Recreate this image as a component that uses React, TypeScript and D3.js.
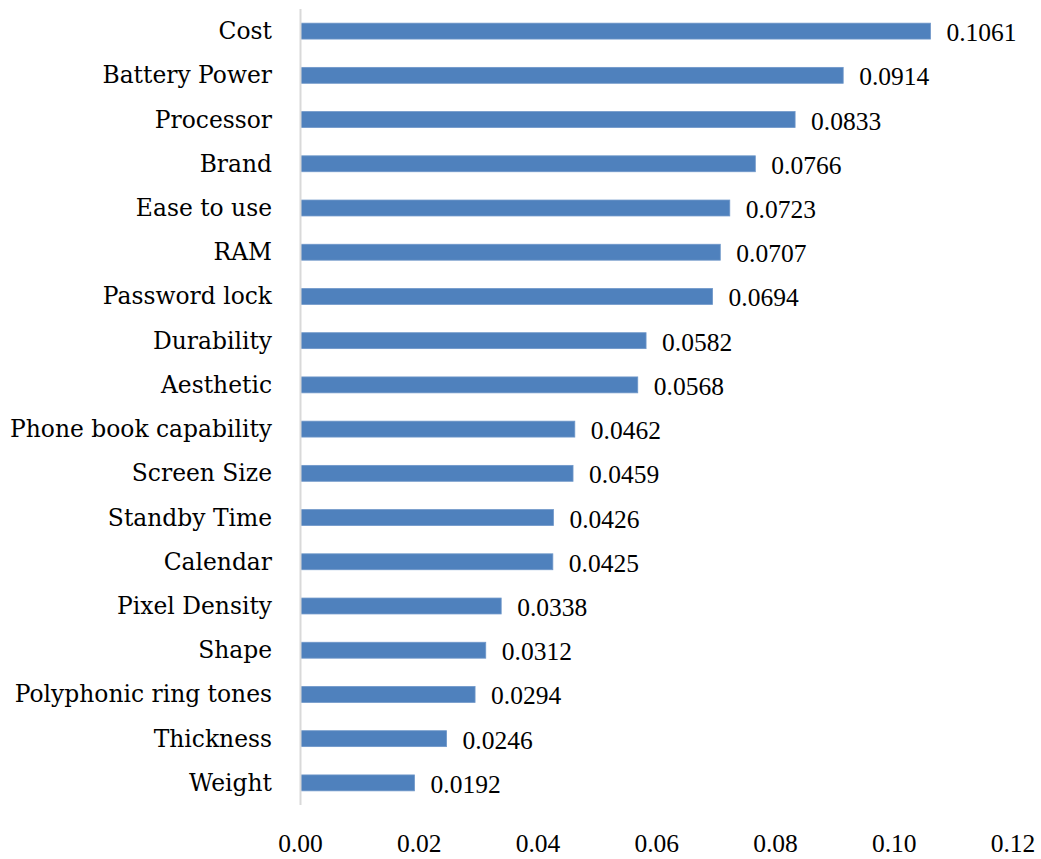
import React from "react";
import * as d3 from "d3";

const categories = [
  "Cost", "Battery Power", "Processor", "Brand", "Ease to use", "RAM",
  "Password lock", "Durability", "Aesthetic", "Phone book capability",
  "Screen Size", "Standby Time", "Calendar", "Pixel Density", "Shape",
  "Polyphonic ring tones", "Thickness", "Weight",
];
const weights = [
  0.1061, 0.0914, 0.0833, 0.0766, 0.0723, 0.0707, 0.0694, 0.0582, 0.0568,
  0.0462, 0.0459, 0.0426, 0.0425, 0.0338, 0.0312, 0.0294, 0.0246, 0.0192,
];
const xTicks = [0, 0.02, 0.04, 0.06, 0.08, 0.1, 0.12];

const W = 1041;
const H = 859;
const LABEL_FONT = "'DejaVu Serif', serif";
const NUM_FONT = "'Liberation Serif', 'Times New Roman', serif";
const LABEL_FS = 23.4;
const NUM_FS = 25.5;

export default function App() {
  const x = d3.scaleLinear().domain([0, 0.12]).range([300.5, 1013]);
  const y = d3.scaleBand().domain(categories).range([9, 805]).paddingInner(0.64).paddingOuter(0.32);
  const bh = y.bandwidth();

  return (
    <svg width={W} height={H} style={{ position: "absolute", left: 0, top: 0 }}>
      <rect width={W} height={H} fill="#fff" />
      {categories.map((c, i) => {
        const cy = (y(c) as number) + bh / 2;
        return (
          <g key={c}>
            <rect x={x(0)} y={y(c)} width={x(weights[i]) - x(0)} height={bh}
              fill="#4f81bd" stroke="#6f97c9" strokeWidth={0.8} />
            <text x={272} y={cy + 8} textAnchor="end" fontFamily={LABEL_FONT} fontSize={LABEL_FS} fill="#000">{c}</text>
            <text x={x(weights[i]) + 16} y={cy + 10} fontFamily={NUM_FONT} fontSize={NUM_FS} fill="#000">
              {weights[i].toFixed(4)}
            </text>
          </g>
        );
      })}
      <line x1={x(0)} x2={x(0)} y1={9} y2={805} stroke="#d9d9d9" strokeWidth={2} />
      {xTicks.map((t) => (
        <text key={t} x={x(t)} y={852} textAnchor="middle" fontFamily={NUM_FONT} fontSize={NUM_FS} fill="#000">
          {t.toFixed(2)}
        </text>
      ))}
    </svg>
  );
}
